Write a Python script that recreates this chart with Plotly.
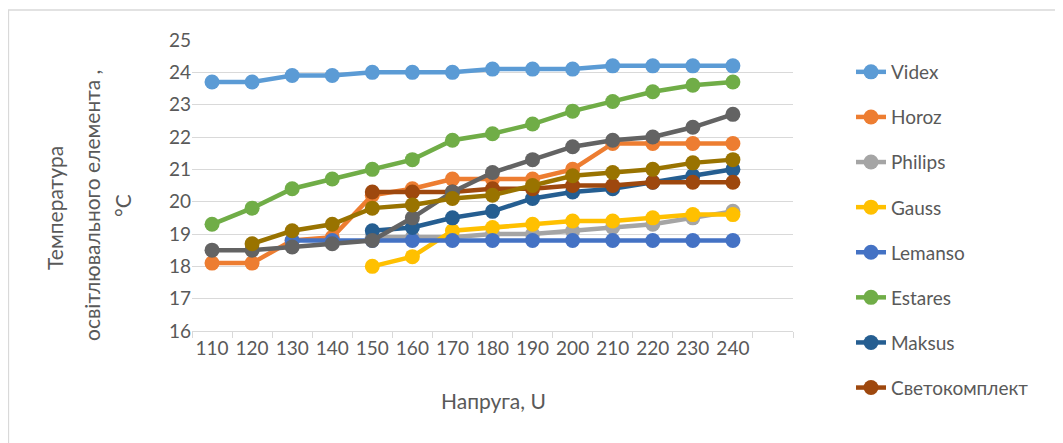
import plotly.graph_objects as go

voltage = [110, 120, 130, 140, 150, 160, 170, 180, 190, 200, 210, 220, 230, 240]
tick_labels = [str(v) for v in voltage]

videx = [23.7, 23.7, 23.9, 23.9, 24.0, 24.0, 24.0, 24.1, 24.1, 24.1, 24.2, 24.2, 24.2, 24.2]
horoz = [18.1, 18.1, 18.8, 18.9, 20.2, 20.4, 20.7, 20.7, 20.7, 21.0, 21.8, 21.8, 21.8, 21.8]
philips = [None, None, None, None, 18.9, 18.9, 18.9, 19.0, 19.0, 19.1, 19.2, 19.3, 19.5, 19.7]
gauss = [None, None, None, None, 18.0, 18.3, 19.1, 19.2, 19.3, 19.4, 19.4, 19.5, 19.6, 19.6]
lemanso = [None, None, 18.8, 18.8, 18.8, 18.8, 18.8, 18.8, 18.8, 18.8, 18.8, 18.8, 18.8, 18.8]
estares = [19.3, 19.8, 20.4, 20.7, 21.0, 21.3, 21.9, 22.1, 22.4, 22.8, 23.1, 23.4, 23.6, 23.7]
maksus = [None, None, None, None, 19.1, 19.2, 19.5, 19.7, 20.1, 20.3, 20.4, 20.6, 20.8, 21.0]
svetokomplekt = [None, None, None, None, 20.3, 20.3, 20.3, 20.4, 20.4, 20.5, 20.5, 20.6, 20.6, 20.6]
series9 = [18.5, 18.5, 18.6, 18.7, 18.8, 19.5, 20.3, 20.9, 21.3, 21.7, 21.9, 22.0, 22.3, 22.7]
series10 = [None, 18.7, 19.1, 19.3, 19.8, 19.9, 20.1, 20.2, 20.5, 20.8, 20.9, 21.0, 21.2, 21.3]

series = [
    ("Videx", videx, "#5B9BD5", True),
    ("Horoz", horoz, "#ED7D31", True),
    ("Philips", philips, "#A5A5A5", True),
    ("Gauss", gauss, "#FFC000", True),
    ("Lemanso", lemanso, "#4472C4", True),
    ("Estares", estares, "#70AD47", True),
    ("Maksus", maksus, "#255E91", True),
    ("Светокомплект", svetokomplekt, "#9E480E", True),
    ("Series9", series9, "#636363", False),
    ("Series10", series10, "#997300", False),
]

FONT = "Lato"
TXT = "#595959"
GRID = "#D9D9D9"

fig = go.Figure()
for i, (name, vals, color, show) in enumerate(series):
    fig.add_trace(go.Scatter(
        x=voltage, y=vals, name=name, mode="lines+markers",
        line=dict(color=color, width=4.5),
        marker=dict(color=color, size=15),
        showlegend=show, legendgroup=f"g{i}",
    ))

# page body has an 8px margin; figure coordinates below are page coords - 8
W, H = 1055, 435
L, R, T, B = 184, 785, 32, 323


def px(x):
    return (x - L) / (R - L)


def py(y):
    return (B - y) / (B - T)


fig.update_layout(
    width=W, height=H,
    margin=dict(l=L, r=W - R, t=T, b=H - B),
    paper_bgcolor="white", plot_bgcolor="white",
    font=dict(family=FONT, color=TXT, size=19),
    xaxis=dict(
        range=[105, 255], tickvals=voltage, ticktext=tick_labels,
        showgrid=False, zeroline=False, showline=True, linecolor=GRID, linewidth=1.3,
        ticks="", tickfont=dict(size=19, color=TXT, family=FONT),
        minor=dict(tick0=105, dtick=10, ticks="outside", ticklen=6, tickcolor=GRID, tickwidth=1.3, showgrid=False),
        fixedrange=True,
    ),
    yaxis=dict(
        range=[16, 25], dtick=1, showgrid=True, gridcolor=GRID, gridwidth=1.3,
        zeroline=False, showline=False, ticks="",
        tickfont=dict(size=19, color=TXT, family=FONT),
        fixedrange=True,
    ),
    legend=dict(
        x=px(843), xanchor="left", y=py(45), yanchor="top",
        font=dict(size=19, color=TXT, family=FONT),
        tracegroupgap=17.4, bgcolor="rgba(0,0,0,0)", maxheight=1000,
    ),
    showlegend=True,
)

annotations = [
    dict(text="Напруга, U", x=px(485), y=py(392), xref="paper", yref="paper",
         showarrow=False, font=dict(size=21, color=TXT, family=FONT),
         xanchor="center", yanchor="middle"),
    dict(text="Температура", x=px(47), y=py(200), xref="paper", yref="paper",
         showarrow=False, textangle=-90, font=dict(size=21, color=TXT, family=FONT),
         xanchor="center", yanchor="middle"),
    dict(text="освітлювального елемента ,", x=px(83), y=py(198), xref="paper", yref="paper",
         showarrow=False, textangle=-90, font=dict(size=21, color=TXT, family=FONT),
         xanchor="center", yanchor="middle"),
    dict(text="°C", x=px(114), y=py(198), xref="paper", yref="paper",
         showarrow=False, textangle=-90, font=dict(size=21, color=TXT, family=FONT),
         xanchor="center", yanchor="middle"),
]
fig.update_layout(annotations=annotations)

fig.add_shape(type="line", xref="paper", yref="paper", x0=px(0), x1=px(1070), y0=py(2), y1=py(2),
              line=dict(color=GRID, width=1.3))
fig.add_shape(type="line", xref="paper", yref="paper", x0=px(0.5), x1=px(0.5), y0=py(2), y1=py(450),
              line=dict(color=GRID, width=1.3))

fig.write_html("out.html")
